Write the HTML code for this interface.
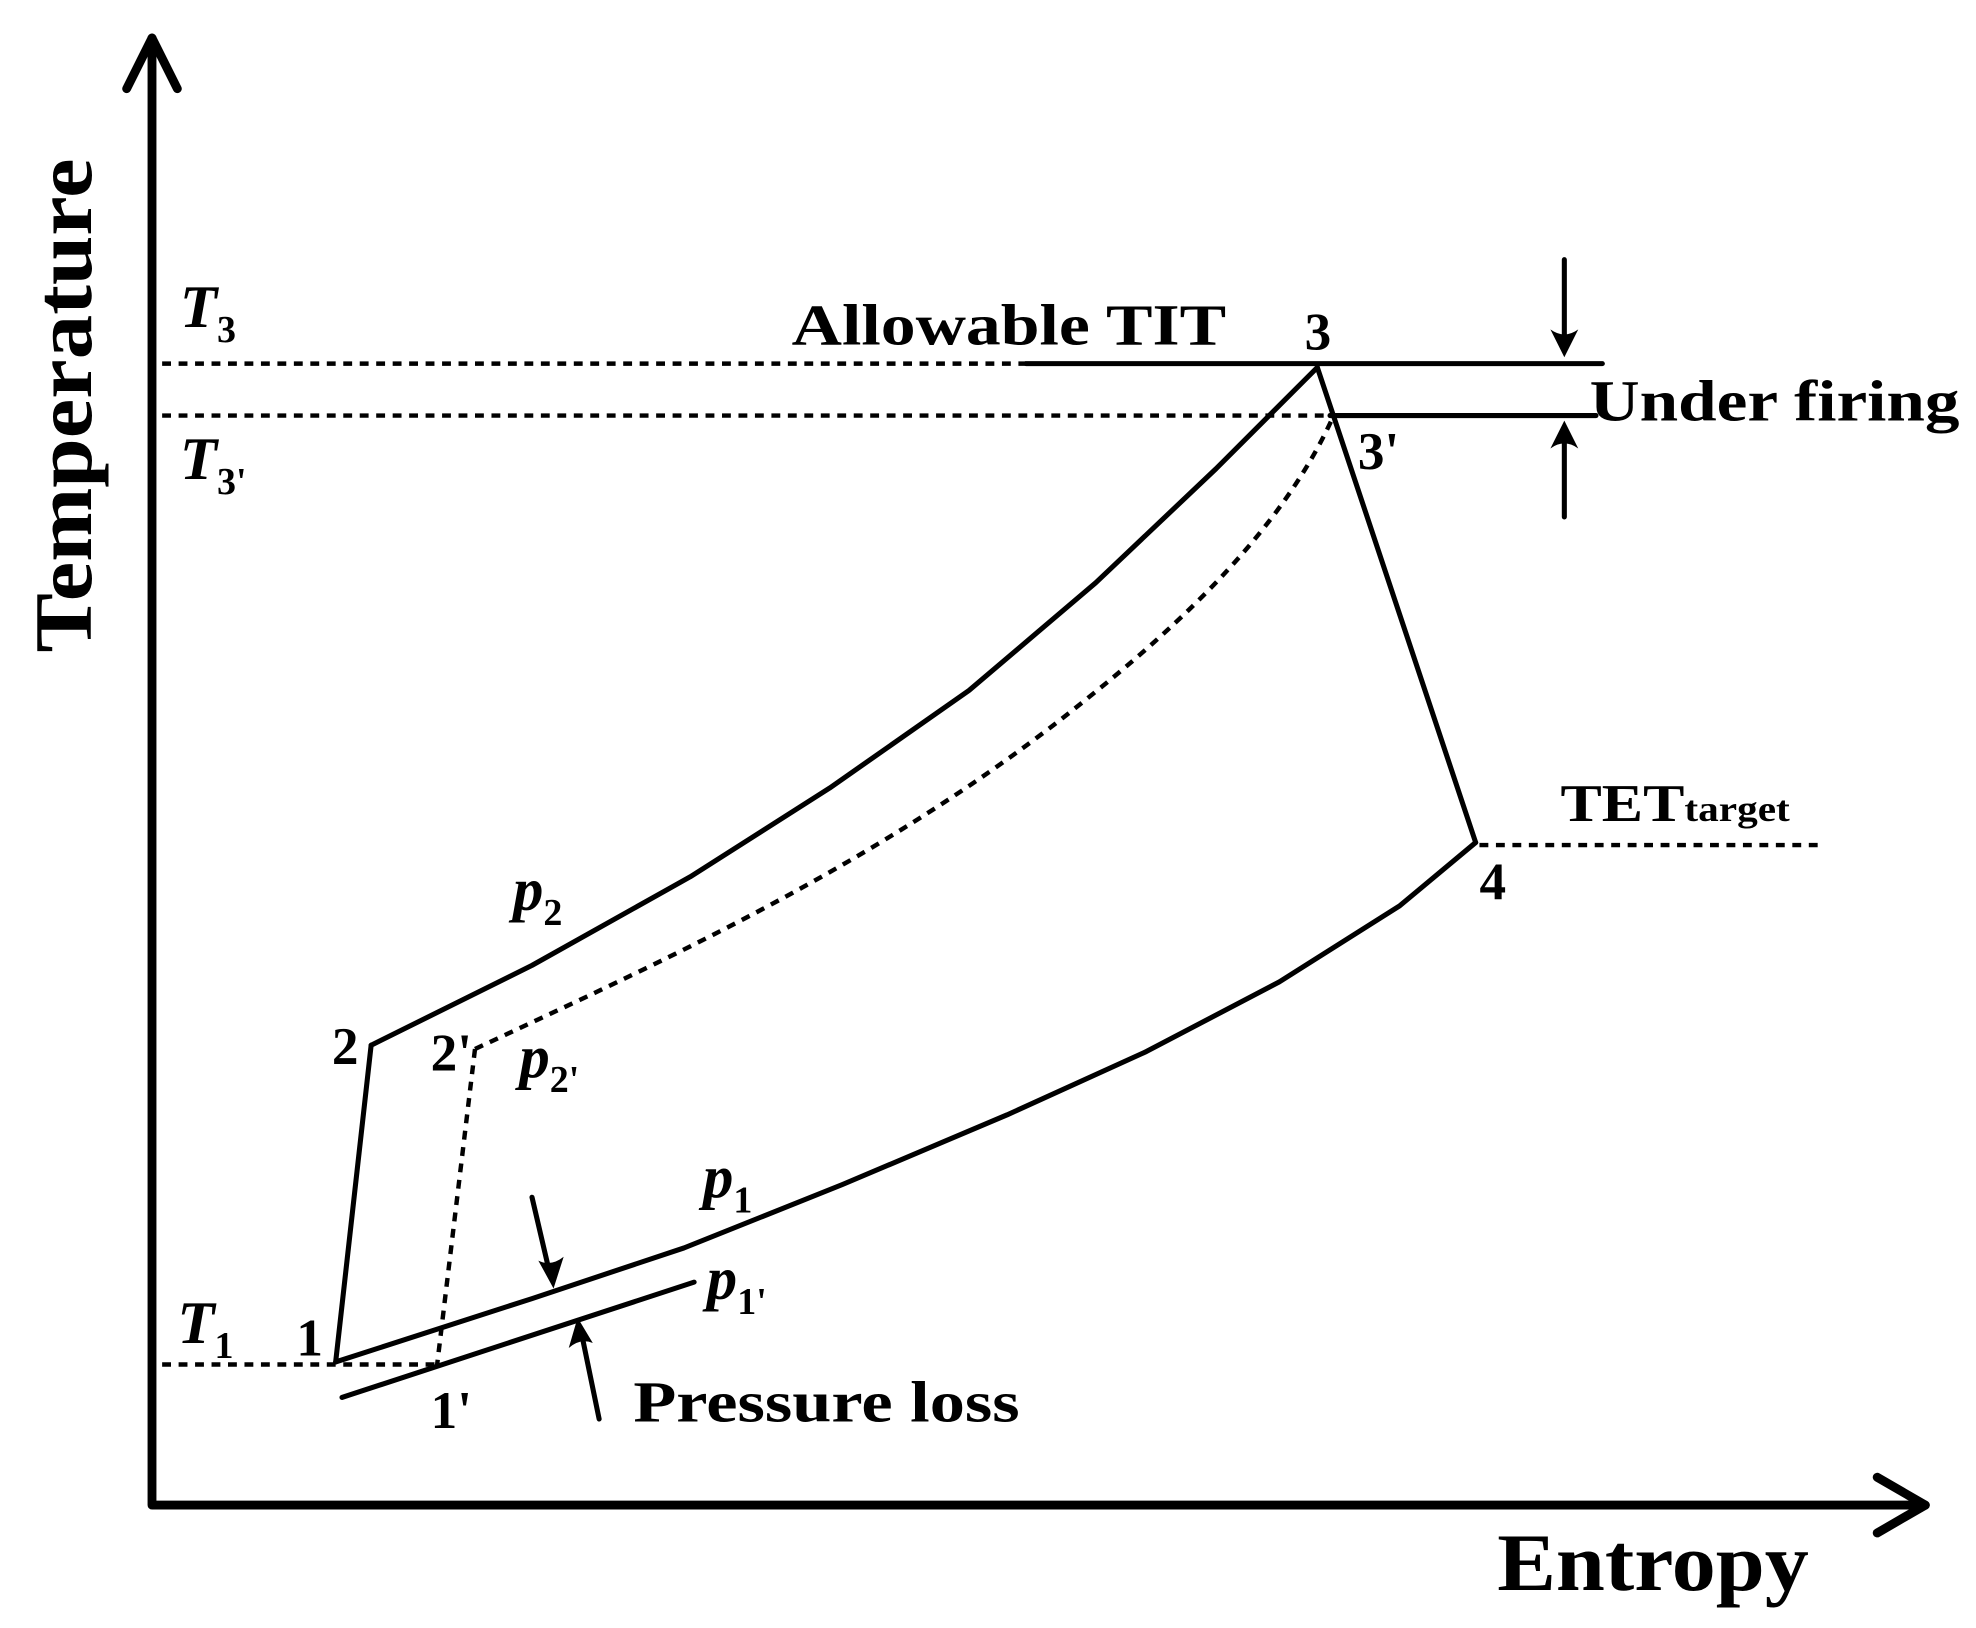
<!DOCTYPE html>
<html><head><meta charset="utf-8"><style>html,body{margin:0;padding:0;background:#fff}svg{display:block}</style></head>
<body>
<svg width="1976" height="1628" viewBox="0 0 1560 1285" preserveAspectRatio="none" xmlns="http://www.w3.org/2000/svg" font-family="Liberation Serif, serif" font-weight="bold" fill="#000">
<g stroke="#000" fill="none" stroke-linecap="round" stroke-linejoin="round">
<path d="M120 1188 V30 M120 1188 H1520" stroke-width="7"/>
<path d="M100 70 L120 30 L140 70" stroke-width="7"/>
<path d="M1482 1166 L1520 1188 L1482 1210" stroke-width="7"/>
<g stroke-width="3.5" stroke-dasharray="7 6" stroke-linecap="butt">
<path d="M128 287 H810"/>
<path d="M128 328 H1050"/>
<path d="M128 1077 H345"/>
<path d="M1168 667 H1437"/>
<path d="M375 828 C520 760 700 680 860 550 C960 470 1020 400 1052 330"/>
<path d="M375 828 L345 1078"/>
</g>
<g stroke-width="4">
<path d="M810 287 H1265"/>
<path d="M1050 328 H1260"/>
<path d="M293 825 L265 1075"/>
<path d="M293 825 L420 762 L545 692 L655 622 L765 545 L865 460 L960 370 L1040 290"/>
<path d="M1040 290 L1165 665"/>
<path d="M265 1075 L420 1025 L540 985 L665 935 L795 880 L905 830 L1010 775 L1105 715 L1165 665"/>
<path d="M270 1103 L548 1012"/>
<path d="M1235 205 V275"/>
<path d="M1235 408 V338"/>
<path d="M420 945 L434 1005"/>
<path d="M473 1120 L459 1052"/>
</g>
</g>
<path d="M1235 282 L1224 260 Q1235 268 1246 260 Z"/>
<path d="M1235 332 L1224 354 Q1235 346 1246 354 Z"/>
<path d="M437 1017 L425 995 Q435 1000 445 992 Z"/>
<path d="M456 1040 L449 1064 Q458 1056 468 1060 Z"/>
<text transform="translate(72,320) rotate(-90)" font-size="64" text-anchor="middle" textLength="390" lengthAdjust="spacingAndGlyphs">Temperature</text>
<text x="1182" y="1255" font-size="64" textLength="246" lengthAdjust="spacingAndGlyphs">Entropy</text>
<text x="625" y="272" font-size="46" textLength="343" lengthAdjust="spacingAndGlyphs">Allowable TIT</text>
<text x="1255" y="332" font-size="46" textLength="292" lengthAdjust="spacingAndGlyphs">Under firing</text>
<text x="1232" y="648" font-size="42" textLength="181" lengthAdjust="spacingAndGlyphs">TET<tspan font-size="28">target</tspan></text>
<text x="1030" y="276" font-size="42">3</text>
<text x="1072" y="370" font-size="42">3'</text>
<text x="1168" y="710" font-size="42">4</text>
<text x="262" y="840" font-size="42">2</text>
<text x="340" y="845" font-size="42">2'</text>
<text x="234" y="1070" font-size="42">1</text>
<text x="340" y="1127" font-size="42">1'</text>
<text x="500" y="1122" font-size="46" textLength="305" lengthAdjust="spacingAndGlyphs">Pressure loss</text>
<g font-style="italic" font-size="48">
<text x="142" y="258">T<tspan font-size="30" font-style="normal" dy="12">3</tspan></text>
<text x="142" y="378">T<tspan font-size="30" font-style="normal" dy="12">3'</tspan></text>
<text x="140" y="1060">T<tspan font-size="30" font-style="normal" dy="12">1</tspan></text>
<text x="405" y="718">p<tspan font-size="30" font-style="normal" dy="12">2</tspan></text>
<text x="410" y="850">p<tspan font-size="30" font-style="normal" dy="12">2'</tspan></text>
<text x="555" y="945">p<tspan font-size="30" font-style="normal" dy="12">1</tspan></text>
<text x="558" y="1025">p<tspan font-size="30" font-style="normal" dy="12">1'</tspan></text>
</g>
</svg>
</body></html>
